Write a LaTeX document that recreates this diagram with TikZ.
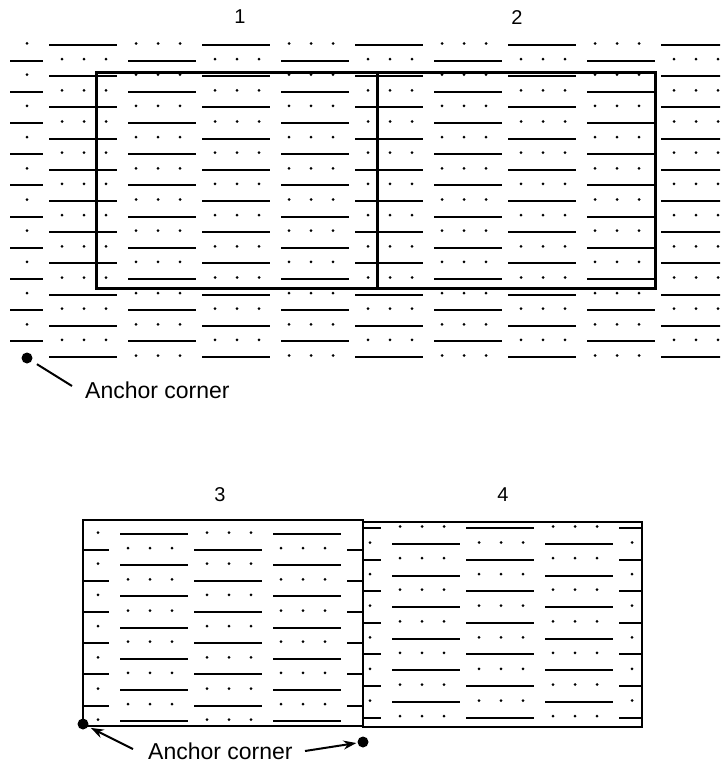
\documentclass[tikz,border=0pt]{standalone}
\usepackage{fontspec}
\setmainfont{Liberation Sans}
\usetikzlibrary{arrows.meta}

% one row of the fill pattern: #1 = y, #2 = bar starts, #3 = dot-group starts
\newcommand{\hatchrow}[3]{%
  \foreach \x in {#2} \draw[rule] (\x,#1) -- ++(68,0);
  \foreach \x in {#3} \foreach \d in {0,22,44} \fill ({\x+\d},{#1-1.5}) circle[radius=1.5pt];}

\begin{document}
\begin{tikzpicture}[
  x=1pt, y=-1pt,
  rule/.style={line width=2pt},
  frame/.style={line width=3pt},
  thinframe/.style={line width=1.8pt},
  tag/.style={font=\fontsize{20}{24}\selectfont, inner sep=0pt},
  caption/.style={font=\fontsize{23}{27}\selectfont, inner sep=0pt},
  anchordot/.style={circle, fill, inner sep=0pt, minimum size=11pt},
  lead/.style={line width=2pt},
  pointer/.style={line width=2pt, -{Stealth[length=13pt, width=9pt]}}]
  \useasboundingbox (0,0) rectangle (720,765);
  % upper layout: pattern with two overlaid tiles
  \begin{scope}
    \clip (10,30) rectangle (720,370);
    \foreach \k in {0,...,10}{
      \pgfmathsetmacro\ya{45+31.2*\k}
      \hatchrow{\ya}{49,202,355,508,661}{-17,136,289,442,595}}
    \foreach \k in {0,...,9}{
      \pgfmathsetmacro\yb{60.6+31.2*\k}
      \hatchrow{\yb}{-25,128,281,434,587}{62,215,368,521,674}}
  \end{scope}
  \draw[frame] (96,73) rectangle (655,288);
  \draw[frame] (377,73) -- (377,288);
  \node[tag] (n1) at (240,17) {1};
  \node[tag] (n2) at (517,18) {2};
  \node[anchordot] (a1) at (27,358) {};
  \node[caption, anchor=base west] (t1) at (85,398) {Anchor corner};
  \coordinate (l1) at (72,386);
  \draw[lead, shorten <=6pt] (a1) -- (l1);
  % lower layout: tile 3
  \begin{scope}
    \clip (83,520) rectangle (363,726);
    \foreach \k in {0,...,6}{
      \pgfmathsetmacro\ya{534+31.2*\k}
      \hatchrow{\ya}{-33,120,273}{54,207}}
    \foreach \k in {0,...,5}{
      \pgfmathsetmacro\yb{549.6+31.2*\k}
      \hatchrow{\yb}{41,194,347}{128,281}}
  \end{scope}
  % lower layout: tile 4
  \begin{scope}
    \clip (363,522) rectangle (642,727);
    \foreach \k in {0,...,6}{
      \pgfmathsetmacro\ya{528+31.6*\k}
      \hatchrow{\ya}{313,466,619}{400,553}}
    \foreach \k in {0,...,5}{
      \pgfmathsetmacro\yb{544+31.6*\k}
      \hatchrow{\yb}{392,545}{326,479,632}}
  \end{scope}
  \draw[thinframe] (83,520) rectangle (363,726);
  \draw[thinframe] (363,522) rectangle (642,727);
  \node[tag] (n3) at (220,495) {3};
  \node[tag] (n4) at (503,495) {4};
  \node[anchordot] (a2) at (83,724) {};
  \node[anchordot] (a3) at (363,742) {};
  \node[caption, anchor=base west] (t2) at (148,759) {Anchor corner};
  \coordinate (l2) at (133,749);
  \coordinate (l3) at (305,751);
  \draw[pointer, shorten >=3pt] (l2) -- (a2);
  \draw[pointer, shorten >=1pt] (l3) -- (a3);
\end{tikzpicture}
\end{document}
